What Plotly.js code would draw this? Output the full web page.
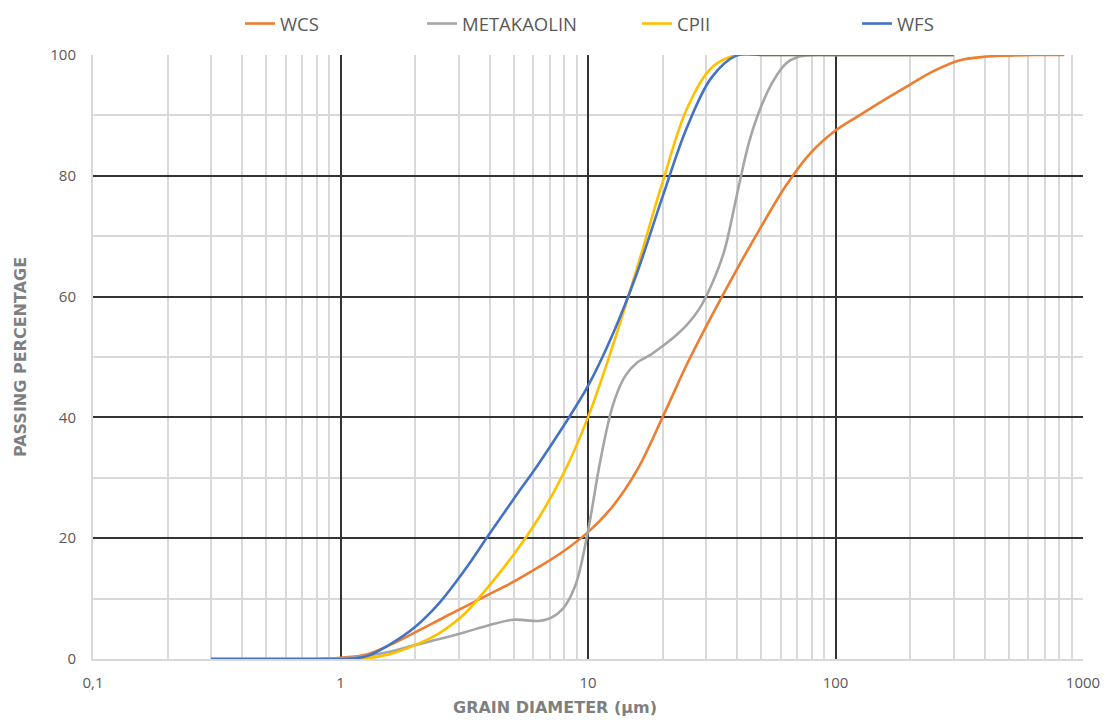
<!DOCTYPE html>
<html>
<head>
<meta charset="utf-8">
<script src="https://cdn.plot.ly/plotly-3.0.1.min.js"></script>
<style>html,body{margin:0;padding:0;background:#fff;}</style>
</head>
<body>
<div id="chart" style="width:1107px;height:720px;"></div>
<script>
// ---- data ----
const seriesNames = ['WCS', 'METAKAOLIN', 'CPII', 'WFS'];
const seriesColors = ['#ED7D31', '#A5A5A5', '#FFC000', '#4472C4'];

const wcsX = [0.3, 0.5, 0.8, 1, 1.26, 1.58, 2, 2.51, 3.16, 3.98, 5.01, 6.31, 7.94, 10, 12.6, 15.8, 20, 25.1, 31.6, 39.8, 50.1, 63.1, 79.4, 100, 126, 158, 200, 251, 316, 398, 501, 631, 840];
const wcsY = [0, 0, 0, 0.2, 0.7, 2.3, 4.4, 6.5, 8.6, 10.7, 12.8, 15.2, 17.8, 21, 25.3, 31.3, 40, 48.8, 56.8, 64.4, 71.6, 78.4, 83.8, 87.5, 90.1, 92.6, 95.1, 97.4, 99.1, 99.7, 99.9, 100, 100];

const metaX = [0.3, 0.5, 0.8, 1, 1.26, 1.58, 2, 2.51, 3.16, 3.98, 5.01, 6.31, 7.08, 7.94, 8.91, 10, 11.2, 12.6, 14.1, 15.8, 17.8, 20, 22.4, 25.1, 28.2, 31.6, 35.5, 39.8, 44.7, 50.1, 56.2, 63.1, 70.8, 79.4, 100, 150, 300];
const metaY = [0, 0, 0, 0.1, 0.5, 1.2, 2.3, 3.3, 4.4, 5.6, 6.5, 6.3, 6.8, 8.4, 12.3, 21.2, 32.7, 42, 46.8, 49.1, 50.3, 51.8, 53.4, 55.3, 58, 62, 67.5, 76.5, 85.5, 91.5, 95.8, 98.6, 99.7, 100, 100, 100, 100];

const cpiiX = [0.3, 0.5, 0.8, 1, 1.26, 1.58, 2, 2.51, 3.16, 3.98, 5.01, 6.31, 7.94, 10, 12.6, 15.8, 20, 25.1, 31.6, 39.8, 50.1, 63.1, 100, 150, 300];
const cpiiY = [0, 0, 0, 0, 0.1, 0.8, 2.3, 4.3, 7.4, 12.1, 17.3, 23.3, 30.6, 40, 51.9, 64.8, 78.9, 91.1, 97.9, 100, 100, 100, 100, 100, 100];

const wfsX = [0.3, 0.5, 0.8, 1, 1.26, 1.58, 2, 2.51, 3.16, 3.98, 5.01, 6.31, 7.94, 10, 12.6, 15.8, 20, 25.1, 31.6, 39.8, 50.1, 63.1, 100, 150, 300];
const wfsY = [0, 0, 0, 0, 0.4, 2.4, 5.3, 9.3, 14.6, 20.6, 26.5, 32.3, 38.5, 45.2, 53.8, 64, 76.5, 88, 96.3, 99.9, 100, 100, 100, 100, 100];

const xTickVals = [0.1, 1, 10, 100, 1000];
const xTickText = ['0,1', '1', '10', '100', '1000'];
const yTickVals = [0, 20, 40, 60, 80, 100];
const yMinorVals = [10, 30, 50, 70, 90];
const xTitle = 'GRAIN DIAMETER (µm)';
const yTitle = 'PASSING PERCENTAGE';

// minor log grid positions 2..9 per decade
const xMinorVals = [];
[0.1, 1, 10, 100].forEach(d => { for (let k = 2; k <= 9; k++) xMinorVals.push(+(d * k).toPrecision(3)); });

const xs = [wcsX, metaX, cpiiX, wfsX];
const ys = [wcsY, metaY, cpiiY, wfsY];
const legendIds = ['legend', 'legend2', 'legend3', 'legend4'];

const traces = seriesNames.map((n, i) => ({
  type: 'scatter', mode: 'lines', name: n,
  x: xs[i], y: ys[i],
  line: {color: seriesColors[i], width: 2.6, shape: 'spline', smoothing: 1},
  legend: legendIds[i],
  hoverinfo: 'x+y+name'
}));

const legendFont = {family: 'Open Sans, sans-serif', size: 18.5, color: '#595959'};
const legendTextPx = [280, 462, 677, 897];
const legendX = px => (px - 40 - 93) / 990;
const legendY = (659 - 24) / 604;
function mkLegend(px) {
  return {x: legendX(px), y: legendY, xanchor: 'left', yanchor: 'middle', orientation: 'h',
          font: legendFont, bgcolor: 'rgba(0,0,0,0)', borderwidth: 0};
}

const gridDark = '#333333';
const gridLight = '#d9d9d9';
const tickFont = {family: 'Open Sans, sans-serif', size: 15, color: '#595959'};
const titleFont = {family: 'DejaVu Sans, sans-serif', size: 16, color: '#7f7f7f', weight: 'bold'};

const layout = {
  width: 1107, height: 720,
  margin: {l: 93, r: 24, t: 55, b: 61, autoexpand: false},
  paper_bgcolor: '#ffffff', plot_bgcolor: '#ffffff',
  showlegend: true,
  legend: mkLegend(legendTextPx[0]),
  legend2: mkLegend(legendTextPx[1]),
  legend3: mkLegend(legendTextPx[2]),
  legend4: mkLegend(legendTextPx[3]),
  xaxis: {
    type: 'log', range: [-1, 3], autorange: false,
    tickvals: xTickVals, ticktext: xTickText,
    showgrid: true, gridcolor: gridDark, gridwidth: 2,
    minor: {tickvals: xMinorVals, showgrid: true, gridcolor: gridLight, gridwidth: 2, ticks: ''},
    showline: true, linecolor: gridLight, linewidth: 2, layer: 'below traces',
    zeroline: false, ticks: '', tickfont: tickFont, ticklabelstandoff: 9
  },
  yaxis: {
    range: [0, 100], autorange: false,
    tickvals: yTickVals,
    showgrid: true, gridcolor: gridDark, gridwidth: 2,
    minor: {tickvals: yMinorVals, showgrid: true, gridcolor: gridLight, gridwidth: 2, ticks: ''},
    showline: true, linecolor: gridLight, linewidth: 2, layer: 'below traces',
    zeroline: false, ticks: '', tickfont: tickFont, ticklabelstandoff: 12,
    title: {text: yTitle, font: titleFont, standoff: 20}
  },
  annotations: [{
    text: xTitle, xref: 'paper', yref: 'paper',
    x: (555 - 93) / 990, y: (659 - 707) / 604, xanchor: 'center', yanchor: 'middle',
    showarrow: false, font: titleFont
  }]
};

Plotly.newPlot('chart', traces, layout, {displayModeBar: false, staticPlot: true});
</script>
</body>
</html>
